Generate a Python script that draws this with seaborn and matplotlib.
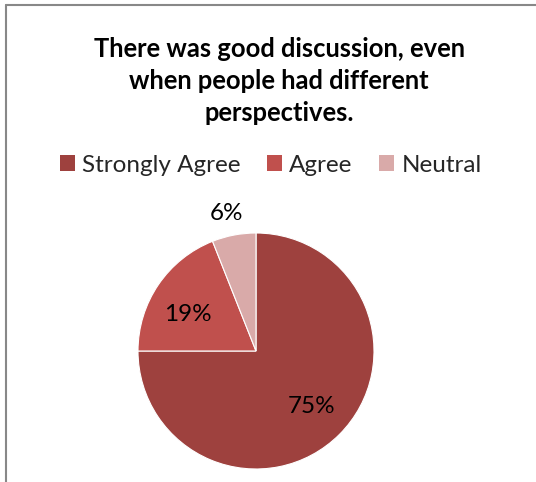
import matplotlib
matplotlib.use("Agg")
import matplotlib.pyplot as plt
import seaborn as sns
import numpy as np
from matplotlib.patches import Patch
from matplotlib.lines import Line2D

categories = ["Strongly Agree", "Agree", "Neutral"]
values = [75, 19, 6]
labels = ["75%", "19%", "6%"]
colors = ["#9E413E", "#C0504D", "#D9AAA9"]
title = "There was good discussion, even\nwhen people had different\nperspectives."

sns.set_theme(style="white")
plt.rcParams['font.family'] = ['Lato', 'DejaVu Sans']

W, H = 536, 482
fig = plt.figure(figsize=(W / 100, H / 100), dpi=100)

# border lines (top and left)
fig.add_artist(Line2D([6 / W, 1], [1 - 5 / H, 1 - 5 / H], color="#888888", lw=1.5, transform=fig.transFigure))
fig.add_artist(Line2D([6 / W, 6 / W], [0, 1 - 5 / H], color="#888888", lw=1.5, transform=fig.transFigure))

fig.text(279 / W, 1 - 81 / H, title, ha="center", va="center", fontsize=18.4,
         fontweight="bold", linespacing=1.4, color="black")

cx, cy, r = 256, 351, 118
ax = fig.add_axes([(cx - r) / W, (H - cy - r) / H, 2 * r / W, 2 * r / H])
wedges, texts = ax.pie(values, colors=colors, startangle=90, counterclock=False,
                       radius=1, wedgeprops=dict(edgecolor="white", linewidth=0.8))
ax.set_xlim(-1, 1)
ax.set_ylim(-1, 1)
ax.set_aspect("equal")
ax.axis("off")

dists = [0.67, 0.66, 1.19]
shifts = [0, 6, 1.5]  # small angular tweaks (degrees) to match label placement
for w, lab, dist, s in zip(wedges, labels, dists, shifts):
    ang = np.deg2rad((w.theta1 + w.theta2) / 2 + s)
    ax.text(dist * np.cos(ang), dist * np.sin(ang), lab, ha="center", va="center",
            fontsize=17.5, color="black")

handles = [Patch(facecolor=c, edgecolor="none") for c in colors]
fig.legend(handles, categories, loc="center", bbox_to_anchor=(271 / W, 1 - 165 / H),
           ncol=3, frameon=False, fontsize=17.5, handlelength=0.6, handleheight=0.6,
           handletextpad=0.3, columnspacing=1.1)

fig.savefig("out.png", dpi=100)
